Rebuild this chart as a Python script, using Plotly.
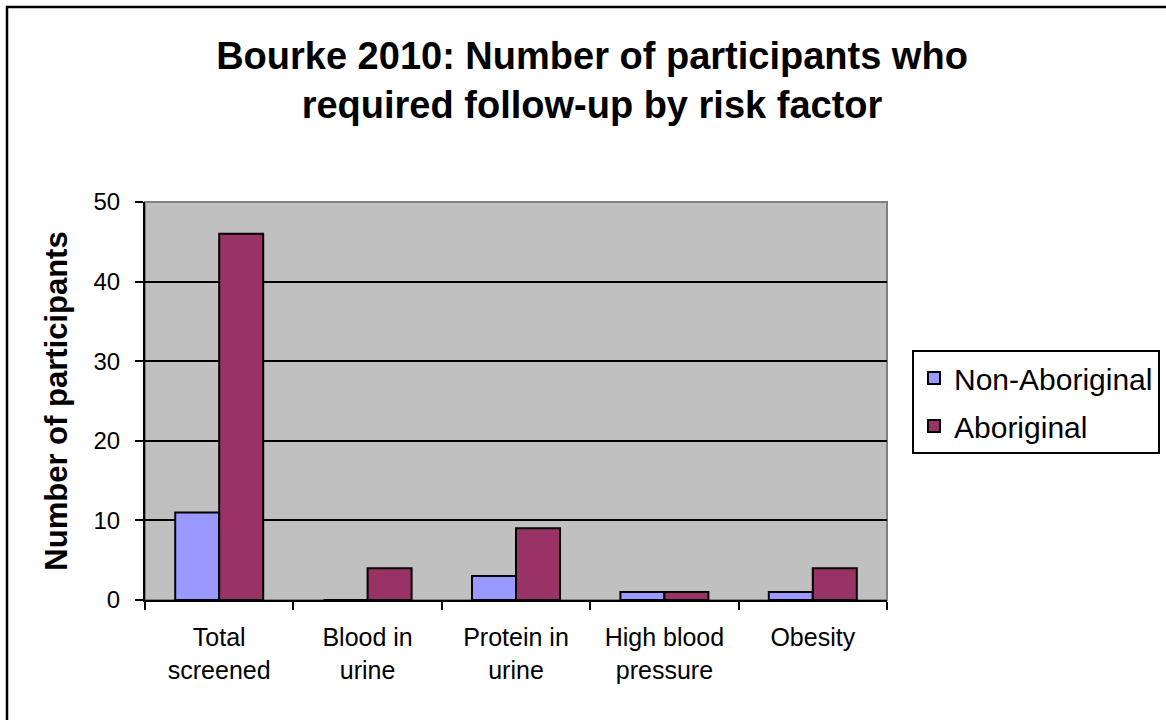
import plotly.graph_objects as go

categories = ["Total<br>screened", "Blood in<br>urine", "Protein in<br>urine", "High blood<br>pressure", "Obesity"]
non_aboriginal = [11, 0, 3, 1, 1]
aboriginal = [46, 4, 9, 1, 4]
y_ticks = [0, 10, 20, 30, 40, 50]

title_text = "Bourke 2010: Number of participants who<br>required follow-up by risk factor"
y_title = "Number of participants"

FONT = "Liberation Sans, Arial, sans-serif"

fig = go.Figure()
fig.add_trace(go.Bar(
    x=categories, y=non_aboriginal, name="Non-Aboriginal",
    marker=dict(color="#9999FF", line=dict(color="black", width=2)),
    legendgroup="a",
))
fig.add_trace(go.Bar(
    x=categories, y=aboriginal, name="Aboriginal",
    marker=dict(color="#993366", line=dict(color="black", width=2)),
    legendgroup="b",
))

W, H = 1166, 720
# target screen positions of plot area
SL, SR, ST, SB = 145, 887, 202, 600
L, T = SL, ST
R = W - SR
B = H - SB
pw, ph = W - L - R, H - T - B

def px_x(p):
    return (p - L) / pw

def px_y(p):
    return (H - B - p) / ph

fig.update_layout(
    width=W, height=H,
    margin=dict(l=L, r=R, t=T, b=B, autoexpand=False),
    paper_bgcolor="white",
    plot_bgcolor="#C0C0C0",
    barmode="group",
    bargap=0.407,
    bargroupgap=0,
    font=dict(family=FONT, color="black", size=24),
    title=dict(
        text=title_text,
        x=592 / W, xanchor="center", xref="container",
        y=1 - 69 / H, yanchor="top", yref="container",
        font=dict(family=FONT, size=38, color="black", weight="bold"),
    ),
    legend=dict(
        x=px_x(912), xanchor="left", y=px_y(350), yanchor="top",
        bordercolor="black", borderwidth=2, bgcolor="white",
        font=dict(family=FONT, size=30, color="black"),
        traceorder="grouped", tracegroupgap=6,
    ),
    xaxis=dict(
        showline=True, linecolor="black", linewidth=2,
        ticks="outside", tickson="boundaries", ticklen=8, tickwidth=2, tickcolor="black",
        tickfont=dict(family=FONT, size=25, color="black"),
        ticklabelstandoff=14,
        showgrid=False,
    ),
    yaxis=dict(
        range=[0, 50], tickvals=y_ticks,
        showline=True, linecolor="black", linewidth=2,
        ticks="outside", ticklen=8, tickwidth=2, tickcolor="black",
        tickfont=dict(family=FONT, size=24, color="black"),
        ticklabelstandoff=10,
        showgrid=True, gridcolor="black", gridwidth=2,
        zeroline=False,
        title=dict(text=y_title, font=dict(family=FONT, size=31, color="black", weight="bold"), standoff=17),
    ),
    shapes=[
        dict(type="rect", xref="paper", yref="paper", x0=0, x1=1, y0=0, y1=1,
             line=dict(color="#808080", width=2), layer="below"),
        dict(type="rect", xref="paper", yref="paper",
             x0=px_x(7), x1=px_x(1185), y0=px_y(7), y1=px_y(740),
             line=dict(color="black", width=2.5), fillcolor="rgba(0,0,0,0)"),
    ],
)

fig.write_html(
    "out.html",
    config={"displayModeBar": False},
    post_script="document.body.style.margin='0';document.body.style.overflow='hidden';",
)
